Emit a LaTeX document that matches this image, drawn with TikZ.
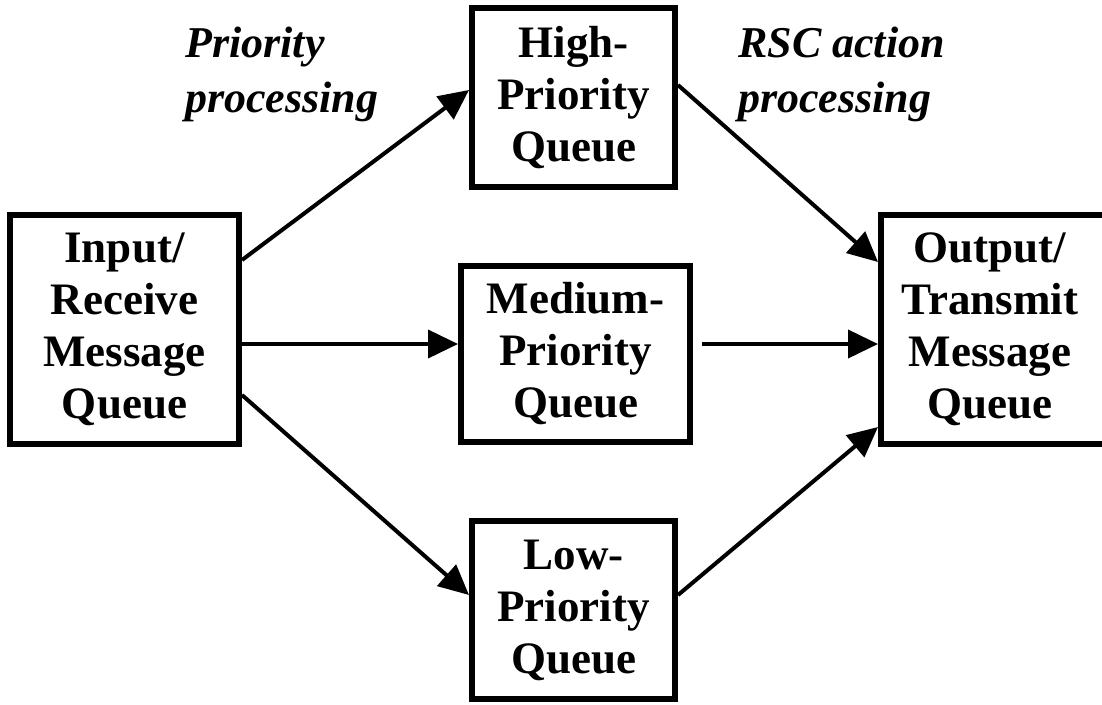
\documentclass[tikz,border=0pt]{standalone}
\usepackage{fontspec}
\setmainfont{Liberation Serif}
\usetikzlibrary{arrows.meta}
\tikzset{
  qbox/.style={draw, line width=6pt, inner sep=0pt, align=center,
    font=\fontsize{45}{52}\selectfont\bfseries},
  conn/.style={line width=4pt, -{Triangle[length=30pt,width=28pt]}},
  note/.style={inner sep=0pt, align=left, anchor=base west,
    font=\fontsize{44}{55}\selectfont\bfseries\itshape}
}
\begin{document}
\begin{tikzpicture}[x=1pt,y=-1pt]
  \useasboundingbox (0,0) rectangle (1102,704);
  \clip (0,0) rectangle (1102,704);
  \fill[white] (0,0) rectangle (1102,704);

  % queues
  \node[qbox, minimum width=229pt, minimum height=229pt] (in)   at (124.5,329.5) {Input/\\Receive\\Message\\Queue};
  \node[qbox, minimum width=203pt, minimum height=179pt] (high) at (573.5,97.5)  {High-\\Priority\\Queue};
  \node[qbox, minimum width=229pt, minimum height=176pt] (med)  at (575.5,354)   {Medium-\\Priority\\Queue};
  \node[qbox, minimum width=203pt, minimum height=178pt] (low)  at (573.5,610)   {Low-\\Priority\\Queue};
  \node[qbox, minimum width=226pt, minimum height=229pt] (out)  at (994,329.5)   {};
  \node[font=\fontsize{45}{52}\selectfont\bfseries, align=center, inner sep=0pt] (outtxt) at (990,329.5) {Output/\\Transmit\\Message\\Queue};

  % stage labels (anchored at the baseline of their last line)
  \node[note] (lblprio) at (185,112) {Priority\\processing};
  \node[note] (lblrsc)  at (738,112) {RSC action\\processing};

  % flows
  \coordinate (medout) at ([xshift=9pt]med.east);
  \draw[conn] (in.east |- 0,260) -- (high.west |- 0,90);
  \draw[conn] (in.east |- 0,344) -- (med.west |- 0,344);
  \draw[conn] (in.east |- 0,395) -- (low.west |- 0,595);
  \draw[conn] (high.east |- 0,85) -- (out.west |- 0,262);
  \draw[conn] (medout |- 0,344) -- (out.west |- 0,344);
  \draw[conn] (low.east |- 0,595) -- (out.west |- 0,427);
\end{tikzpicture}
\end{document}
